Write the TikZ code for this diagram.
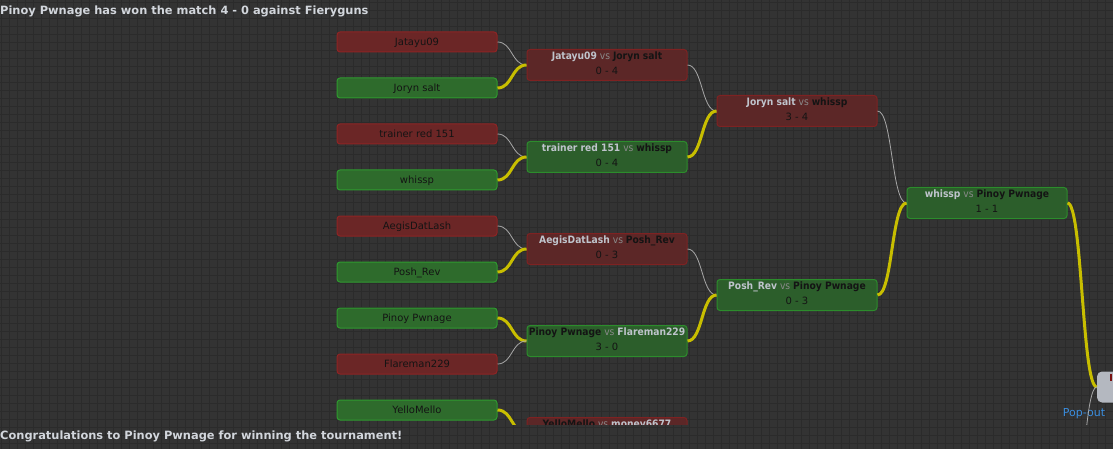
\documentclass[tikz,border=0pt]{standalone}
\usepackage{fontspec}
\setmainfont{DejaVu Sans}
\newfontfamily\condfont{DejaVu Sans Condensed}
\definecolor{bgc}{HTML}{333333}
\definecolor{gridc}{HTML}{2B2B2B}
\definecolor{pRedF}{HTML}{6B2626}
\definecolor{pRedB}{HTML}{8E2424}
\definecolor{pGrnF}{HTML}{2E6B2C}
\definecolor{pGrnB}{HTML}{2F9A2F}
\definecolor{mRedF}{HTML}{5C2727}
\definecolor{mRedB}{HTML}{7E2222}
\definecolor{mGrnF}{HTML}{2C5E2B}
\definecolor{mGrnB}{HTML}{2C8C2C}
\definecolor{darktxt}{HTML}{141414}
\definecolor{lighttxt}{HTML}{BFC4CC}
\definecolor{vstxt}{HTML}{8A8A8A}
\definecolor{titletxt}{HTML}{D2D6DC}
\definecolor{winline}{HTML}{C8BE00}
\definecolor{loseline}{HTML}{A8A8A8}
\definecolor{finalF}{HTML}{B4B8C0}
\definecolor{popblue}{HTML}{3A8EE0}
\definecolor{markred}{HTML}{7A1212}
\newcommand{\wname}[1]{\textcolor{darktxt}{\textbf{#1}}}
\newcommand{\lname}[1]{\textcolor{lighttxt}{\textbf{#1}}}
\newcommand{\vsword}{\ \textcolor{vstxt}{vs}\ }
\newcommand{\namefont}{\condfont\fontsize{10.2}{15}\selectfont}
\newcommand{\lowstrut}{\rule[-3pt]{0pt}{0pt}}
\begin{document}
\begin{tikzpicture}[x=1pt,y=-1pt,
  boxbase/.style={rounded corners=3pt, line width=1pt, inner sep=0pt, minimum width=160pt, text=darktxt},
  pred/.style={boxbase, draw=pRedB, fill=pRedF, minimum height=20pt, text height=7.3pt, text depth=0pt, font=\fontsize{10}{12}\selectfont},
  pgreen/.style={boxbase, draw=pGrnB, fill=pGrnF, minimum height=20pt, text height=7.3pt, text depth=0pt, font=\fontsize{10}{12}\selectfont},
  mred/.style={boxbase, draw=mRedB, fill=mRedF, minimum height=31pt, align=center, font=\fontsize{10}{15}\selectfont},
  mgreen/.style={boxbase, draw=mGrnB, fill=mGrnF, minimum height=31pt, align=center, font=\fontsize{10}{15}\selectfont},
  finalbox/.style={rounded corners=5pt, fill=finalF, inner sep=0pt, minimum width=160pt, minimum height=31pt},
  wline/.style={draw=winline, line width=3pt},
  lline/.style={draw=loseline, line width=0.8pt},
  titletext/.style={anchor=west, inner sep=0pt, text=titletxt, font=\bfseries\fontsize{11.4}{13}\selectfont}
]
\useasboundingbox (0,0) rectangle (1113,449);
\fill[bgc] (0,0) rectangle (1113,449);
\foreach \gx in {1,9,...,1113} \draw[gridc, line width=1pt] (\gx,0) -- (\gx,449);
\foreach \gy in {3,11,...,449} \draw[gridc, line width=1pt] (0,\gy) -- (1113,\gy);

\node[titletext] (title) at (0,11.5) {Pinoy Pwnage has won the match 4 - 0 against Fieryguns};
\node[titletext] (congrats) at (0,436.5) {Congratulations to Pinoy Pwnage for winning the tournament!};

\begin{scope}
\clip (0,25) rectangle (1113,424);
% players
\node[pred]   (p1) at (417,42)  {Jatayu09};
\node[pgreen] (p2) at (417,88)  {Joryn salt};
\node[pred]   (p3) at (417,134) {trainer red 151};
\node[pgreen] (p4) at (417,180) {whissp};
\node[pred]   (p5) at (417,226) {AegisDatLash};
\node[pgreen] (p6) at (417,272) {Posh\_Rev};
\node[pgreen] (p7) at (417,318) {Pinoy Pwnage};
\node[pred]   (p8) at (417,364) {Flareman229};
\node[pgreen] (p9) at (417,410) {YelloMello};
% round 1
\node[mred]   (m1) at (607,65)  {{\namefont\lname{Jatayu09}\vsword\wname{Joryn salt}}\\0 - 4\lowstrut};
\node[mgreen] (m2) at (607,157) {{\namefont\lname{trainer red 151}\vsword\wname{whissp}}\\0 - 4\lowstrut};
\node[mred]   (m3) at (607,249) {{\namefont\lname{AegisDatLash}\vsword\wname{Posh\_Rev}}\\0 - 3\lowstrut};
\node[mgreen] (m4) at (607,341) {{\namefont\wname{Pinoy Pwnage}\vsword\lname{Flareman229}}\\3 - 0\lowstrut};
\node[mred]   (m5) at (607,433) {{\namefont\wname{YelloMello}\vsword\lname{money6677}}\\\lowstrut};
% round 2
\node[mred]   (q1) at (797,111) {{\namefont\lname{Joryn salt}\vsword\wname{whissp}}\\3 - 4\lowstrut};
\node[mgreen] (q2) at (797,295) {{\namefont\lname{Posh\_Rev}\vsword\wname{Pinoy Pwnage}}\\0 - 3\lowstrut};
% round 3
\node[mgreen] (s1) at (987,203) {{\namefont\lname{whissp}\vsword\wname{Pinoy Pwnage}}\\1 - 1\lowstrut};
\coordinate (s2) at (1067,571);
% final
\node[finalbox] (fin) at (1177,387) {};
\fill[markred] (1109.5,373.5) rectangle (1111.5,380.5);
\node[anchor=center, inner sep=0pt, text=popblue, font=\fontsize{11}{13}\selectfont] (pop) at (1084,414) {Pop-out};
% connectors
\draw[lline] (p1.east) .. controls +(15,0) and +(-15,0) .. (m1.west);
\draw[wline] (p2.east) .. controls +(15,0) and +(-15,0) .. (m1.west);
\draw[lline] (p3.east) .. controls +(15,0) and +(-15,0) .. (m2.west);
\draw[wline] (p4.east) .. controls +(15,0) and +(-15,0) .. (m2.west);
\draw[lline] (p5.east) .. controls +(15,0) and +(-15,0) .. (m3.west);
\draw[wline] (p6.east) .. controls +(15,0) and +(-15,0) .. (m3.west);
\draw[wline] (p7.east) .. controls +(15,0) and +(-15,0) .. (m4.west);
\draw[lline] (p8.east) .. controls +(15,0) and +(-15,0) .. (m4.west);
\draw[wline] (p9.east) .. controls +(15,0) and +(-15,0) .. (m5.west);
\draw[lline] (m1.east) .. controls +(15,0) and +(-15,0) .. (q1.west);
\draw[wline] (m2.east) .. controls +(15,0) and +(-15,0) .. (q1.west);
\draw[lline] (m3.east) .. controls +(15,0) and +(-15,0) .. (q2.west);
\draw[wline] (m4.east) .. controls +(15,0) and +(-15,0) .. (q2.west);
\draw[lline] (q1.east) .. controls +(15,0) and +(-15,0) .. (s1.west);
\draw[wline] (q2.east) .. controls +(15,0) and +(-15,0) .. (s1.west);
\draw[wline] (s1.east) .. controls +(15,0) and +(-15,0) .. (fin.west);
\draw[lline] (s2) .. controls +(15,0) and +(-15,0) .. (fin.west);
\end{scope}
\end{tikzpicture}
\end{document}
